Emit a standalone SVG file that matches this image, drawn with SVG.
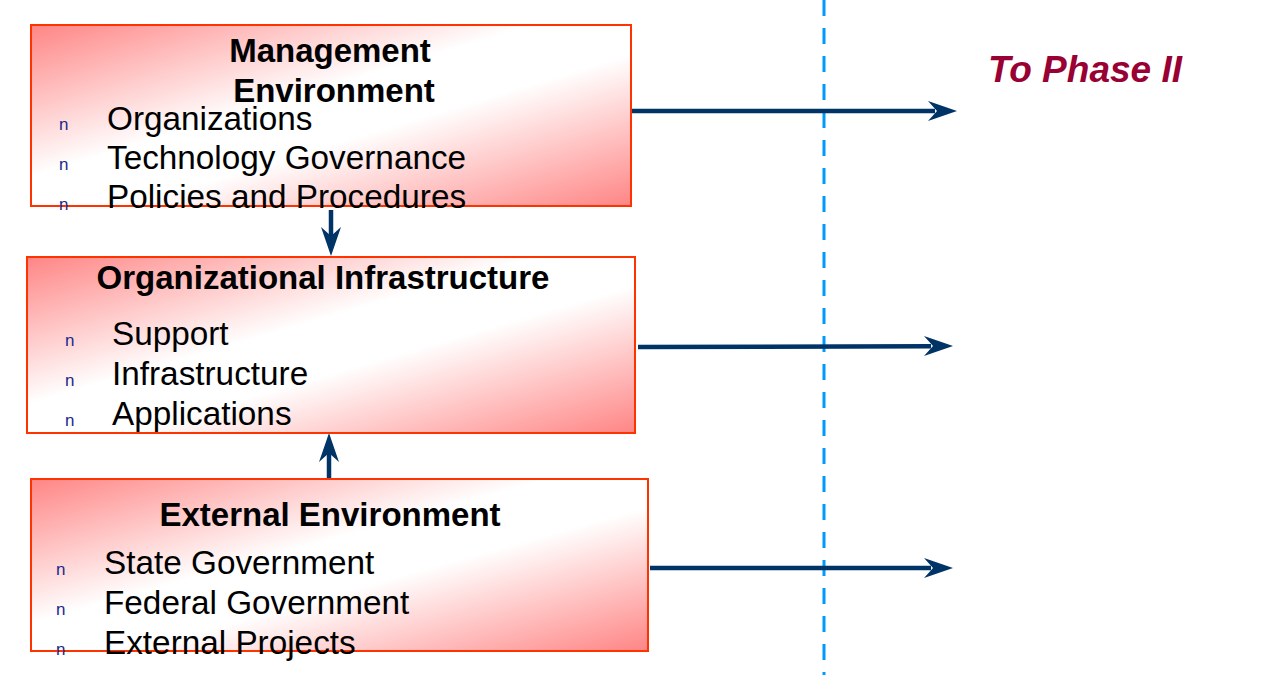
<svg xmlns="http://www.w3.org/2000/svg" width="1275" height="683" viewBox="0 0 1275 683">
<defs>
<linearGradient id="g" x1="0" y1="0" x2="1" y2="1">
<stop offset="0" stop-color="#ff8585"/>
<stop offset="0.42" stop-color="#ffffff"/>
<stop offset="0.58" stop-color="#ffffff"/>
<stop offset="1" stop-color="#ff8585"/>
</linearGradient>
</defs>
<style>
.box{fill:url(#g);stroke:#ff3300;stroke-width:2}
.t{font-family:"Liberation Sans",Arial,sans-serif;font-size:33px;font-weight:bold;fill:#000;text-anchor:middle}
.i{font-family:"Liberation Sans",Arial,sans-serif;font-size:33.3px;fill:#000}
.b{font-family:"Liberation Sans",Arial,sans-serif;font-size:17px;fill:#1a2a8c}
.ln{stroke:#003366;stroke-width:4.5;fill:none}
.hd{fill:#003366}
.ph{font-family:"Liberation Sans",Arial,sans-serif;font-size:37px;font-weight:bold;font-style:italic;fill:#990033}
</style>
<rect width="1275" height="683" fill="#fff"/>
<line x1="824" y1="0" x2="824" y2="675" stroke="#0099ff" stroke-width="3" stroke-dasharray="16 12"/>
<g id="connectors">
<line class="ln" x1="631" y1="111" x2="935" y2="111"/>
<polygon class="hd" points="957,111 928,101 937,111 928,121"/>
<line class="ln" x1="638" y1="347" x2="931" y2="346.2"/>
<polygon class="hd" points="953,346 924,336 933,346 924,356"/>
<line class="ln" x1="650" y1="568" x2="931" y2="568"/>
<polygon class="hd" points="953,568 924,558 933,568 924,578"/>
<line class="ln" x1="331" y1="210" x2="331" y2="236"/>
<polygon class="hd" points="331,256 321,227 331,236 341,227"/>
<line class="ln" x1="329" y1="478" x2="329" y2="453"/>
<polygon class="hd" points="329,433 319,462 329,453 339,462"/>
</g>
<g id="management">
<rect class="box" x="31" y="25" width="600" height="181"/>
<text class="t" x="330" y="62">Management</text>
<text class="t" x="334" y="102">Environment</text>
<text class="b" x="59" y="130">n</text>
<text class="b" x="59" y="170">n</text>
<text class="b" x="59" y="210">n</text>
<text class="i" x="107" y="130">Organizations</text>
<text class="i" x="107" y="169">Technology Governance</text>
<text class="i" x="107" y="208">Policies and Procedures</text>
</g>
<g id="organizational">
<rect class="box" x="27" y="257" width="608" height="176"/>
<text class="t" x="323" y="289">Organizational Infrastructure</text>
<text class="b" x="65" y="346">n</text>
<text class="b" x="65" y="386">n</text>
<text class="b" x="65" y="426">n</text>
<text class="i" x="112" y="345">Support</text>
<text class="i" x="112" y="385">Infrastructure</text>
<text class="i" x="112" y="425">Applications</text>
</g>
<g id="external">
<rect class="box" x="31" y="479" width="617" height="172"/>
<text class="t" x="330" y="526">External Environment</text>
<text class="b" x="56" y="575">n</text>
<text class="b" x="56" y="615">n</text>
<text class="b" x="56" y="655">n</text>
<text class="i" x="104" y="574">State Government</text>
<text class="i" x="104" y="614">Federal Government</text>
<text class="i" x="104" y="654">External Projects</text>
</g>
<text class="ph" x="988" y="82">To Phase II</text>
</svg>
